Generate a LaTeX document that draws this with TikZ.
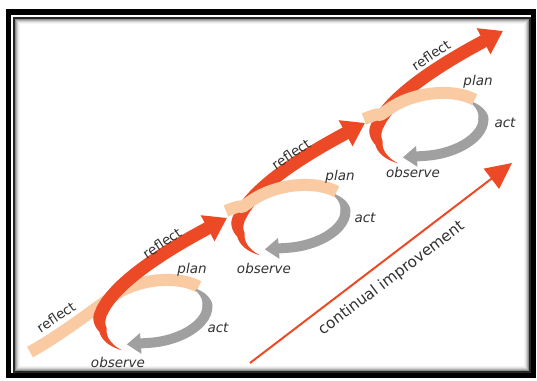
\documentclass[tikz,border=0pt]{standalone}
\usepackage{fontspec}
\setmainfont{DejaVu Sans}
\usetikzlibrary{arrows.meta}

\definecolor{arrowred}{RGB}{236,74,38}
\definecolor{peach}{RGB}{250,203,163}
\definecolor{loopgrey}{RGB}{160,160,160}
\definecolor{labelgrey}{RGB}{50,50,50}

\tikzset{
  steplbl/.style={text=labelgrey, font=\fontsize{13.5}{14}\selectfont\itshape, inner sep=0pt},
  reflectlbl/.style={text=labelgrey, font=\fontsize{13.5}{14}\selectfont, inner sep=0pt, rotate=34},
  redband/.style={arrowred, line width=13pt, -{Triangle[width=28pt,length=22pt]}},
  greyband/.style={loopgrey, line width=10pt, -{Triangle[width=20pt,length=14pt]}},
  peachband/.style={peach, line width=12pt},
}

% red "observe -> reflect" ribbon: tapered tail round the left of the loop, then the big arrow
\newcommand{\redribbon}[2]{%
  \begin{scope}[shift={(#1,#2)}, rotate=10]
    \fill[arrowred]
      plot[domain=236:158, samples=50]
        ({(56*(1+0.006*max(0,\x-195)) + min(6.5,(236-\x)*0.1))*cos(\x)},
         {(30*(1+0.006*max(0,\x-195)) + min(6.5,(236-\x)*0.1))*sin(\x)})
      -- plot[domain=158:236, samples=50]
        ({(56*(1+0.006*max(0,\x-195)) - min(6.5,(236-\x)*0.1))*cos(\x)},
         {(30*(1+0.006*max(0,\x-195)) - min(6.5,(236-\x)*0.1))*sin(\x)})
      -- cycle;
    \coordinate (redtip) at (87.4,81.1);
    \draw[redband] (160:56 and 30) .. controls +(55.8:35) and +(198:60) .. (redtip);
  \end{scope}}

% grey "act" ribbon: thin start under "plan", arrow head at "observe"
\newcommand{\greyribbon}[2]{%
  \begin{scope}[shift={(#1,#2)}, rotate=10]
    \fill[loopgrey]
      plot[domain=33:-6, samples=30]
        ({(53+min(5,1+(33-\x)*0.12))*cos(\x)}, {(29+min(5,1+(33-\x)*0.12))*sin(\x)})
      -- plot[domain=-6:33, samples=30]
        ({(53-min(5,1+(33-\x)*0.12))*cos(\x)}, {(29-min(5,1+(33-\x)*0.12))*sin(\x)})
      -- cycle;
    \coordinate (greytip) at (-33.2,-26);
    \draw[greyband] (-4:53 and 29) arc[start angle=-4, end angle=-100, x radius=53, y radius=29] -- (greytip);
  \end{scope}}

% peach "plan" ribbon over the top of the loop; #3,#4 start point, #5 start direction
\newcommand{\peachribbon}[5]{%
  \begin{scope}[shift={(#1,#2)}, rotate=10]
    \coordinate (peachstart) at (#3,#4);
    \draw[peachband] (peachstart) .. controls +(#5:30) and +(204.9:25) .. (130:58 and 32)
      arc[start angle=130, end angle=35, x radius=58, y radius=32];
  \end{scope}}

\begin{document}
\begin{tikzpicture}[x=1pt, y=1pt]
  \useasboundingbox (0,0) rectangle (537,380);
  \fill[white] (0,0) rectangle (537,380);

  % frame
  \draw[black, line width=5.5pt] (8.5,4.5) rectangle (533.5,368);
  \draw[black!85, line width=2pt] (14,8.5) rectangle (530,362);
  \foreach \d/\g in {1.5/45, 2.5/30, 3.5/18, 4.5/9, 5.5/4} {
    \draw[black!\g, line width=1pt] (14+\d,8.5+\d) rectangle (530-\d,362-\d);
  }

  % first loop (long reflect tail passes under the red arrow)
  \peachribbon{155}{67}{-129.9}{-16.7}{18}
  \redribbon{155}{67}
  \greyribbon{155}{67}

  % second loop
  \redribbon{293}{162}
  \greyribbon{293}{162}
  \peachribbon{293}{162}{-64.8}{18.6}{12}

  % third loop
  \redribbon{431}{254}
  \greyribbon{431}{254}
  \peachribbon{431}{254}{-64.8}{18.6}{12}

  % labels, first loop
  \node[reflectlbl] (rf0) at (56,63) {reflect};
  \node[reflectlbl] (rf1) at (162,137) {reflect};
  \node[steplbl] (pl1) at (192,110) {plan};
  \node[steplbl] (ac1) at (218,52) {act};
  \node[steplbl] (ob1) at (118,18) {observe};

  % labels, second loop
  \node[reflectlbl] (rf2) at (291,226) {reflect};
  \node[steplbl] (pl2) at (340,203) {plan};
  \node[steplbl] (ac2) at (365,162) {act};
  \node[steplbl] (ob2) at (264,112) {observe};

  % labels, third loop
  \node[reflectlbl] (rf3) at (431,325) {reflect};
  \node[steplbl] (pl3) at (478,298) {plan};
  \node[steplbl] (ac3) at (505,257) {act};
  \node[steplbl] (ob3) at (413,208) {observe};

  % continual improvement arrow
  \coordinate (ciStart) at (250,17);
  \coordinate (ciEnd) at (512,217);
  \draw[arrowred, line width=2pt, -{Triangle[width=25pt,length=26pt]}] (ciStart) -- (ciEnd);
  \node[rotate=37, text=labelgrey, font=\fontsize{15.3}{16}\selectfont, inner sep=0pt] (ci) at (391.5,101.5) {continual improvement};
\end{tikzpicture}
\end{document}
